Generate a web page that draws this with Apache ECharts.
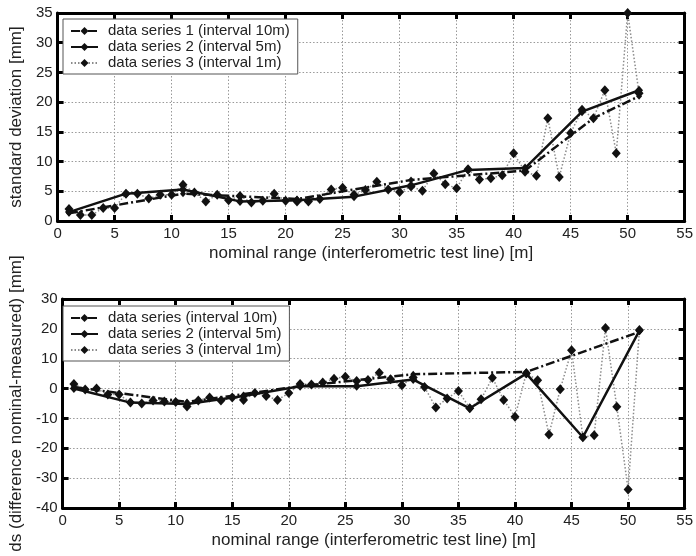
<!DOCTYPE html>
<html>
<head>
<meta charset="utf-8">
<script src="https://cdn.jsdelivr.net/npm/echarts@6/dist/echarts.min.js"></script>
<style>
html,body{margin:0;padding:0;background:#fff;}
#chart{width:696px;height:556px;}
</style>
</head>
<body>
<div id="chart"></div>
<script>
// ---- data ----
var xTicks = [0,5,10,15,20,25,30,35,40,45,50,55];

// top panel: standard deviation [mm]
var topX1 = [1,11,21,31,41,47,51];
var topS1 = [1.3,4.6,3.7,6.9,8.5,17.3,21.0];
var topX2 = [1,6,11,16,21,26,31,36,41,46,51];
var topS2 = [1.5,4.6,5.3,3.3,3.5,4.1,6.0,8.6,8.9,18.4,22.0];
var topX3 = [1,2,3,4,5,6,7,8,9,10,11,12,13,14,15,16,17,18,19,20,21,22,23,24,25,26,27,28,29,30,31,32,33,34,35,36,37,38,39,40,41,42,43,44,45,46,47,48,49,50,51];
var topS3 = [2.0,1.0,1.0,2.2,2.2,4.6,4.6,3.8,4.4,4.4,6.1,4.8,3.3,4.4,3.5,4.2,3.1,3.4,4.6,3.4,3.3,3.3,3.7,5.3,5.6,4.4,5.2,6.6,5.3,4.9,5.8,5.1,8.0,6.2,5.5,8.7,7.0,7.2,7.7,11.4,8.3,7.6,17.3,7.4,14.8,18.7,17.3,22.0,11.4,35.0,21.5];

// bottom panel: ds (difference nominal-measured) [mm]
var botX1 = [1,11,21,31,41,51];
var botS1 = [0.5,-4.5,0.8,4.8,5.6,19.0];
var botX2 = [1,6,11,16,21,26,31,36,41,46,51];
var botS2 = [0,-4.7,-5.2,-2.5,0.8,0.8,3.0,-6.6,5.0,-16.3,19.4];
var botX3 = topX3;
var botS3 = [1.5,-0.3,0,-2,-2,-4.7,-5,-4,-4.3,-4.5,-6,-4,-3,-4,-3,-3.8,-1.5,-2.5,-3.8,-1.5,1.5,1.4,2,3.3,4,2.5,2.9,5.3,3.1,1.1,3.7,0.5,-6.3,-3.3,-0.8,-6.6,-3.6,3.6,-3.8,-9.4,5.1,2.8,-15.4,-0.2,12.8,-16.3,-15.6,20.3,-6.1,-33.8,19.6];

var topNames = ['data series 1 (interval 10m)','data series 2 (interval 5m)','data series 3 (interval 1m)'];
var botNames = ['data series (interval 10m)','data series 2 (interval 5m)','data series 3 (interval 1m)'];
var xTitle = 'nominal range (interferometric test line) [m]';
var topYTitle = 'standard deviation [mm]';
var botYTitle = 'ds (difference nominal-measured) [mm]';

function pairs(xs, ys){ return xs.map(function(x,i){ return [x, ys[i]]; }); }

var FONT = 'Liberation Sans';
var TXT = '#222';

function xAxisMain(grid){
  return {
    type:'value', gridIndex:grid, min:0, max:55, interval:5, position:'bottom',
    name: xTitle, nameLocation:'middle', nameGap:24,
    nameTextStyle:{fontFamily:FONT,fontSize:17,color:TXT},
    axisLine:{show:true,onZero:false,lineStyle:{color:'#000',width:3}},
    axisTick:{show:true,inside:true,length:6,lineStyle:{color:'#000',width:3}},
    axisLabel:{fontFamily:FONT,fontSize:15,color:TXT,margin:5},
    splitLine:{show:true,lineStyle:{color:'#999',type:[1.5,2],width:1}}
  };
}
function xAxisMirror(grid){
  return {
    type:'value', gridIndex:grid, min:0, max:55, interval:5, position:'top',
    axisLine:{show:true,onZero:false,lineStyle:{color:'#000',width:3}},
    axisTick:{show:true,inside:true,length:6,lineStyle:{color:'#000',width:3}},
    axisLabel:{show:false}, splitLine:{show:false}
  };
}
function yAxisMain(grid,min,max,interval,title,gap){
  return {
    type:'value', gridIndex:grid, min:min, max:max, interval:interval, position:'left',
    name:title, nameLocation:'middle', nameGap:gap, nameRotate:90,
    nameTextStyle:{fontFamily:FONT,fontSize:17,color:TXT},
    axisLine:{show:true,onZero:false,lineStyle:{color:'#000',width:3}},
    axisTick:{show:true,inside:true,length:6,lineStyle:{color:'#000',width:3}},
    axisLabel:{fontFamily:FONT,fontSize:15,color:TXT,margin:5},
    splitLine:{show:true,lineStyle:{color:'#999',type:[1.5,2],width:1}}
  };
}
function yAxisMirror(grid,min,max,interval){
  return {
    type:'value', gridIndex:grid, min:min, max:max, interval:interval, position:'right',
    axisLine:{show:true,onZero:false,lineStyle:{color:'#000',width:3}},
    axisTick:{show:true,inside:true,length:6,lineStyle:{color:'#000',width:3}},
    axisLabel:{show:false}, splitLine:{show:false}
  };
}

function s3(name,data,xi,yi){
  return {name:name,type:'line',xAxisIndex:xi,yAxisIndex:yi,data:data,
    symbol:'diamond',symbolSize:[9,10],showSymbol:true,
    itemStyle:{color:'#111'},
    lineStyle:{color:'#8a8a8a',width:1.5,type:[1.5,2]},z:2,animation:false};
}
function s1(name,data,xi,yi){
  return {name:name,type:'line',xAxisIndex:xi,yAxisIndex:yi,data:data,
    symbol:'diamond',symbolSize:[6,7],
    itemStyle:{color:'#111'},
    lineStyle:{color:'#111',width:2.5,type:[9,3,2,3]},z:3,animation:false};
}
function s2(name,data,xi,yi){
  return {name:name,type:'line',xAxisIndex:xi,yAxisIndex:yi,data:data,
    symbol:'diamond',symbolSize:[8,9],
    itemStyle:{color:'#111'},
    lineStyle:{color:'#111',width:2.5,type:'solid'},z:4,animation:false};
}

function legend(top,names){
  return {
    orient:'vertical', left:63, top:top, data:names,
    backgroundColor:'#fff', borderColor:'#555', borderWidth:1,
    padding:[4,8,3,7], itemGap:0, itemWidth:27, itemHeight:10,
    textStyle:{fontFamily:FONT,fontSize:15,color:TXT,lineHeight:16,padding:[0,0,0,5]},
    z:10
  };
}

var chart = echarts.init(document.getElementById('chart'), null, {renderer:'canvas'});
var option = {
  backgroundColor:'#fff',
  animation:false,
  grid:[
    {left:57, top:13, width:631, height:208},
    {left:57, top:299, width:631, height:209}
  ],
  legend:[legend(19, topNames), legend(306, botNames)],
  xAxis:[xAxisMain(0), xAxisMirror(0), xAxisMain(1), xAxisMirror(1)],
  yAxis:[
    yAxisMain(0,0,35,5,topYTitle,31), yAxisMirror(0,0,35,5),
    yAxisMain(1,-40,30,10,botYTitle,31), yAxisMirror(1,-40,30,10)
  ],
  series:[
    s3(topNames[2], pairs(topX3, topS3), 0, 0),
    s1(topNames[0], pairs(topX1, topS1), 0, 0),
    s2(topNames[1], pairs(topX2, topS2), 0, 0),
    s3(botNames[2], pairs(botX3, botS3), 2, 2),
    s1(botNames[0], pairs(botX1, botS1), 2, 2),
    s2(botNames[1], pairs(botX2, botS2), 2, 2)
  ]
};
chart.setOption(option);
</script>
</body>
</html>
